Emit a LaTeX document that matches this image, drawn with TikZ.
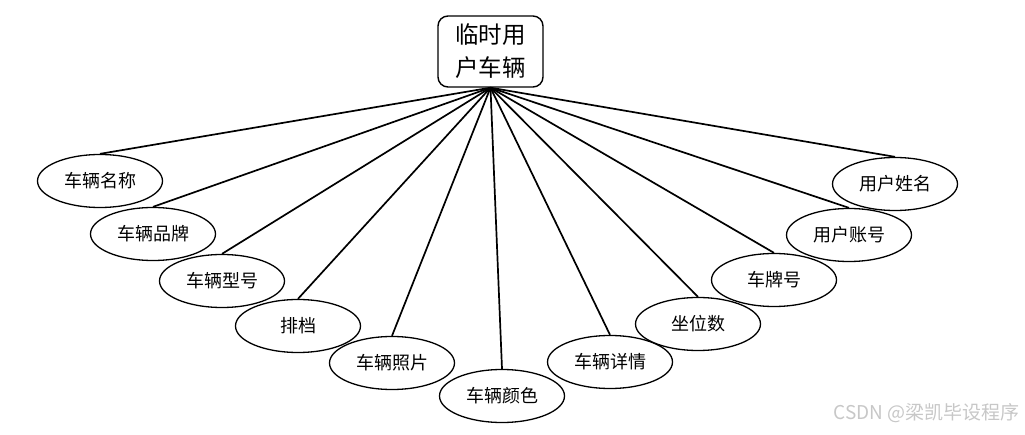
\documentclass[tikz,border=0pt]{standalone}
\usepackage{fontspec}
\setmainfont{Noto Sans CJK SC}
\usetikzlibrary{shapes.geometric}
\begin{document}
\begin{tikzpicture}[x=1pt,y=-1pt,
  attr/.style={ellipse,draw=black,line width=1.3pt,fill=white,minimum width=125pt,minimum height=53pt,inner sep=0pt,font=\fontsize{18pt}{20pt}\selectfont},
  entity/.style={draw=black,line width=1.4pt,rounded corners=10pt,fill=white,minimum width=105pt,minimum height=71pt,inner sep=0pt,align=center,font=\fontsize{23.5pt}{33pt}\selectfont},
  link/.style={line width=1.7pt,black}]
\useasboundingbox (0,0) rectangle (1025,435);
\node[entity] (c) at (490.5,51.5) {临时用\\户车辆};
\node[attr] (a1) at (100,181) {车辆名称};
\node[attr] (a2) at (153,234) {车辆品牌};
\node[attr] (a3) at (222,281) {车辆型号};
\node[attr] (a4) at (298,326) {排档};
\node[attr] (a5) at (392,363) {车辆照片};
\node[attr] (a6) at (502,396) {车辆颜色};
\node[attr] (a7) at (610,362) {车辆详情};
\node[attr] (a8) at (698,324) {坐位数};
\node[attr] (a9) at (774,280) {车牌号};
\node[attr] (a10) at (849,235) {用户账号};
\node[attr] (a11) at (895,184) {用户姓名};
\foreach \i in {1,...,11} \draw[link] (c.south) -- (a\i.north);
\node[text=black!22,font=\fontsize{19pt}{20pt}\selectfont,anchor=east] (wm) at (1023,413) {CSDN @梁凯毕设程序};
\end{tikzpicture}
\end{document}
